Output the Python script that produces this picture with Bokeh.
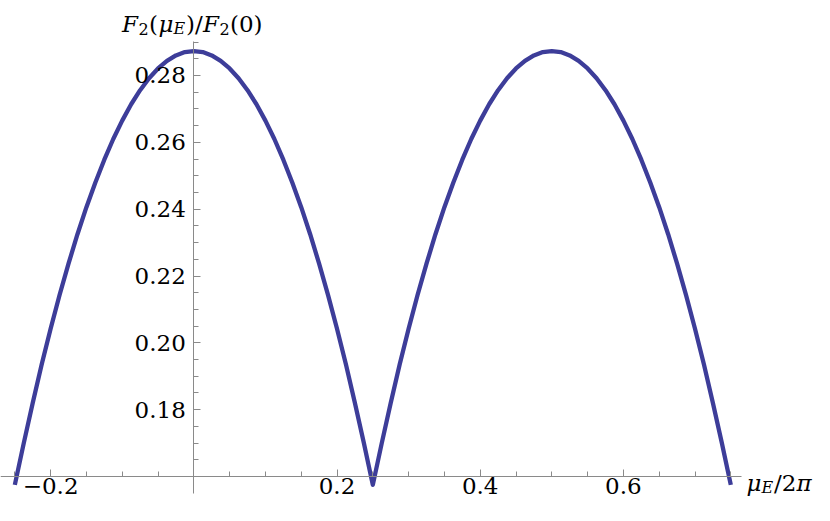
from bokeh.plotting import figure
from bokeh.models import Range1d, LinearAxis, FixedTicker, CustomJSTickFormatter, Label
from bokeh.embed import file_html
from bokeh.resources import INLINE

# ---- data ----
mu_over_2pi = [-0.25, -0.2375, -0.225, -0.2125, -0.2, -0.1875, -0.175, -0.1625, -0.15, -0.1375,
               -0.125, -0.1125, -0.1, -0.0875, -0.075, -0.0625, -0.05, -0.0375, -0.025, -0.0125,
               0.0, 0.0125, 0.025, 0.0375, 0.05, 0.0625, 0.075, 0.0875, 0.1, 0.1125,
               0.125, 0.1375, 0.15, 0.1625, 0.175, 0.1875, 0.2, 0.2125, 0.225, 0.2375,
               0.25, 0.2625, 0.275, 0.2875, 0.3, 0.3125, 0.325, 0.3375, 0.35, 0.3625,
               0.375, 0.3875, 0.4, 0.4125, 0.425, 0.4375, 0.45, 0.4625, 0.475, 0.4875,
               0.5, 0.5125, 0.525, 0.5375, 0.55, 0.5625, 0.575, 0.5875, 0.6, 0.6125,
               0.625, 0.6375, 0.65, 0.6625, 0.675, 0.6875, 0.7, 0.7125, 0.725, 0.7375,
               0.75]
f2_ratio = [0.1575, 0.1700, 0.1820, 0.1935, 0.2042, 0.2143, 0.2237, 0.2325, 0.2406, 0.2480,
            0.2548, 0.2610, 0.2665, 0.2714, 0.2756, 0.2792, 0.2821, 0.2844, 0.2860, 0.2870,
            0.2873, 0.2870, 0.2860, 0.2844, 0.2821, 0.2792, 0.2756, 0.2714, 0.2665, 0.2610,
            0.2548, 0.2480, 0.2406, 0.2325, 0.2237, 0.2143, 0.2042, 0.1935, 0.1820, 0.1700,
            0.1575, 0.1700, 0.1820, 0.1935, 0.2042, 0.2143, 0.2237, 0.2325, 0.2406, 0.2480,
            0.2548, 0.2610, 0.2665, 0.2714, 0.2756, 0.2792, 0.2821, 0.2844, 0.2860, 0.2870,
            0.2873, 0.2870, 0.2860, 0.2844, 0.2821, 0.2792, 0.2756, 0.2714, 0.2665, 0.2610,
            0.2548, 0.2480, 0.2406, 0.2325, 0.2237, 0.2143, 0.2042, 0.1935, 0.1820, 0.1700,
            0.1575]

x_major_ticks = [-0.2, 0.2, 0.4, 0.6]
x_tick_labels = ["\u22120.2", "0.2", "0.4", "0.6"]
x_minor_ticks = [-0.25, -0.15, -0.1, -0.05, 0.0, 0.05, 0.1, 0.15, 0.25, 0.3, 0.35,
                 0.45, 0.5, 0.55, 0.65, 0.7, 0.75]
y_major_ticks = [0.18, 0.20, 0.22, 0.24, 0.26, 0.28]
y_tick_labels = ["0.18", "0.20", "0.22", "0.24", "0.26", "0.28"]
y_minor_ticks = [0.16, 0.165, 0.17, 0.175, 0.185, 0.19, 0.195, 0.205, 0.21, 0.215,
                 0.225, 0.23, 0.235, 0.245, 0.25, 0.255, 0.265, 0.27, 0.275, 0.285, 0.29]

W, H = 814, 505
FONT = "DejaVu Serif"
AXIS_COLOR = "#8a8a8a"
LINE_COLOR = "#3d3d99"

p = figure(width=W, height=H, output_backend="svg", toolbar_location=None, title=None,
           x_axis_type=None, y_axis_type=None,
           x_range=Range1d(-0.27, 0.8669), y_range=Range1d(0.151324, 0.302443),
           min_border=0, min_border_left=0, min_border_right=0,
           min_border_top=0, min_border_bottom=0)
p.outline_line_color = None
p.background_fill_color = "white"
p.border_fill_color = "white"
p.grid.grid_line_color = None

def fmt(vals, labs):
    return CustomJSTickFormatter(args=dict(vals=vals, labs=labs), code="""
        const i = vals.findIndex(v => Math.abs(v - tick) < 1e-9);
        return i >= 0 ? labs[i] : "";
    """)

xaxis = LinearAxis(fixed_location=0.16, bounds=(-0.27, 0.765),
                   ticker=FixedTicker(ticks=x_major_ticks, minor_ticks=x_minor_ticks),
                   formatter=fmt(x_major_ticks, x_tick_labels))
yaxis = LinearAxis(fixed_location=0.0, bounds=(0.1549, 0.2901),
                   ticker=FixedTicker(ticks=y_major_ticks, minor_ticks=y_minor_ticks),
                   formatter=fmt(y_major_ticks, y_tick_labels))
for ax in (xaxis, yaxis):
    ax.axis_line_color = AXIS_COLOR
    ax.axis_line_width = 1
    ax.major_tick_line_color = AXIS_COLOR
    ax.minor_tick_line_color = AXIS_COLOR
    ax.major_tick_in = 7
    ax.major_tick_out = 0
    ax.minor_tick_in = 5
    ax.minor_tick_out = 0
    ax.major_label_text_font = FONT
    ax.major_label_text_font_size = "23px"
    ax.major_label_text_color = "black"
xaxis.major_label_standoff = 1
yaxis.major_label_standoff = 8
p.add_layout(xaxis, "below")
p.add_layout(yaxis, "left")

p.line(mu_over_2pi, f2_ratio, line_color=LINE_COLOR, line_width=4.3, line_join="round")

# axis labels built from pieces (image px -> screen units, y measured from bottom)
def piece(text, ix, iy, size, italic):
    p.add_layout(Label(x=ix, y=H - iy, x_units="screen", y_units="screen",
                       text=text, text_font=FONT, text_font_size=f"{size}px",
                       text_font_style="italic" if italic else "normal",
                       text_color="black", text_align="left", text_baseline="alphabetic"))

# y label: F_2(mu_E)/F_2(0)
piece("F", 121.5, 23, 23, True)
piece("2", 138, 28, 16, False)
piece("(", 148.5, 23, 23, False)
piece("\u03bc", 158, 23, 23, True)
piece("E", 173, 28, 16, True)
piece(")/", 185.5, 23, 23, False)
piece("F", 202.5, 23, 23, True)
piece("2", 219, 28, 16, False)
piece("(0)", 229.5, 23, 23, False)

# x label: mu_E / 2 pi
piece("\u03bc", 746, 482, 23, True)
piece("E", 761, 487, 16, True)
piece("/2", 773.5, 482, 23, False)
piece("\u03c0", 796, 482, 23, True)

open("out.html", "w").write(file_html(p, INLINE))
